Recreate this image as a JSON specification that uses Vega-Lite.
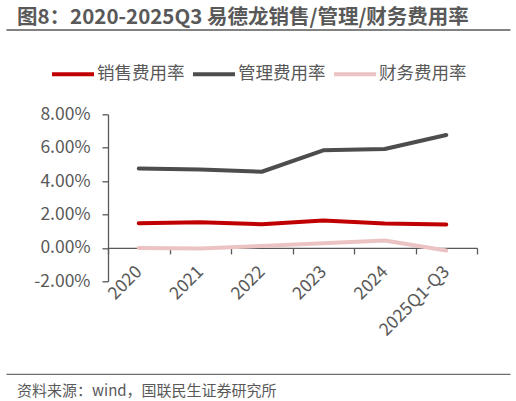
{
  "$schema": "https://vega.github.io/schema/vega-lite/v6.json",
  "background": "#ffffff",
  "padding": {"left": 6, "right": 6, "top": 7.5, "bottom": 0},
  "config": {
    "font": "Noto Sans CJK SC",
    "view": {"stroke": null},
    "axis": {
      "domainColor": "#595959",
      "domainWidth": 1.3,
      "tickColor": "#595959",
      "tickWidth": 1.3,
      "tickSize": 6,
      "labelColor": "#595959",
      "labelFontSize": 17.5,
      "grid": false,
      "title": null
    }
  },
  "bounds": "flush",
  "spacing": 84.8,
  "vconcat": [
    {
      "width": 504,
      "height": 1,
      "title": {
        "text": "图8：2020-2025Q3 易德龙销售/管理/财务费用率",
        "anchor": "start",
        "frame": "group",
        "dx": -91,
        "offset": -2.5,
        "fontSize": 20.5,
        "fontWeight": "bold",
        "color": "#595959"
      },
      "data": {"values": [{"v": 0}]},
      "mark": {"type": "point", "opacity": 0},
      "encoding": {
        "x": {
          "field": "v",
          "type": "quantitative",
          "scale": {"domain": [0, 1]},
          "axis": {
            "position": -102,
            "domainWidth": 1.6,
            "domainColor": "#595959",
            "ticks": false,
            "labels": false
          }
        }
      }
    },
    {
      "width": 369,
      "height": 167,
      "data": {
        "values": [
          {"period": "2020", "series": "销售费用率", "rate": 1.48},
          {"period": "2021", "series": "销售费用率", "rate": 1.54},
          {"period": "2022", "series": "销售费用率", "rate": 1.42},
          {"period": "2023", "series": "销售费用率", "rate": 1.64},
          {"period": "2024", "series": "销售费用率", "rate": 1.46},
          {"period": "2025Q1-Q3", "series": "销售费用率", "rate": 1.40},
          {"period": "2020", "series": "管理费用率", "rate": 4.76},
          {"period": "2021", "series": "管理费用率", "rate": 4.70},
          {"period": "2022", "series": "管理费用率", "rate": 4.56},
          {"period": "2023", "series": "管理费用率", "rate": 5.84},
          {"period": "2024", "series": "管理费用率", "rate": 5.92},
          {"period": "2025Q1-Q3", "series": "管理费用率", "rate": 6.76},
          {"period": "2020", "series": "财务费用率", "rate": 0.00},
          {"period": "2021", "series": "财务费用率", "rate": -0.03},
          {"period": "2022", "series": "财务费用率", "rate": 0.12},
          {"period": "2023", "series": "财务费用率", "rate": 0.28},
          {"period": "2024", "series": "财务费用率", "rate": 0.44},
          {"period": "2025Q1-Q3", "series": "财务费用率", "rate": -0.16}
        ]
      },
      "mark": {"type": "line", "strokeWidth": 4, "strokeCap": "round", "strokeJoin": "round"},
      "encoding": {
        "x": {
          "field": "period",
          "type": "nominal",
          "sort": null,
          "bandPosition": 0.5,
          "scale": {"type": "band", "paddingInner": 0, "paddingOuter": 0},
          "axis": {
            "orient": "bottom",
            "offset": -33.4,
            "tickBand": "extent",
            "labelAngle": -45,
            "labelAlign": "right",
            "labelBaseline": "middle",
            "labelPadding": 15,
            "labelOverlap": false,
            "labelFlush": false
          }
        },
        "y": {
          "field": "rate",
          "type": "quantitative",
          "scale": {"domain": [-2, 8], "nice": false, "zero": false},
          "axis": {
            "values": [-2, 0, 2, 4, 6, 8],
            "labelExpr": "(datum.value < 0 ? '-' : '') + format(abs(datum.value), '.2f') + '%'",
            "labelPadding": 12
          }
        },
        "color": {
          "field": "series",
          "type": "nominal",
          "sort": null,
          "scale": {
            "domain": ["销售费用率", "管理费用率", "财务费用率"],
            "range": ["#C00000", "#4D4D4D", "#EBC3C3"]
          },
          "legend": {
            "orient": "none",
            "direction": "horizontal",
            "legendX": -58,
            "legendY": 22.5,
            "title": null,
            "padding": 0,
            "symbolType": "stroke",
            "symbolSize": 1764,
            "symbolStrokeWidth": 4,
            "labelFontSize": 17.5,
            "labelColor": "#595959",
            "labelOffset": 1,
            "columnPadding": 0
          }
        }
      }
    },
    {
      "width": 504,
      "height": 7.7,
      "title": {
        "text": "资料来源：wind，国联民生证券研究所",
        "orient": "bottom",
        "anchor": "start",
        "frame": "group",
        "dx": -91,
        "offset": 10,
        "fontSize": 15,
        "fontWeight": "normal",
        "color": "#595959"
      },
      "data": {"values": [{"v": 0}]},
      "mark": {"type": "point", "opacity": 0},
      "encoding": {
        "x": {
          "field": "v",
          "type": "quantitative",
          "scale": {"domain": [0, 1]},
          "axis": {
            "position": -102,
            "domainWidth": 1.3,
            "domainColor": "#6e6e6e",
            "ticks": false,
            "labels": false
          }
        }
      }
    }
  ]
}
